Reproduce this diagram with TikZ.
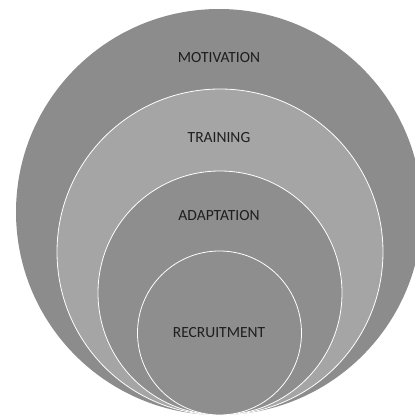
\documentclass[tikz,border=0pt]{standalone}
\usepackage{fontspec}
\setmainfont{Carlito}
\usepackage{tikz}
\usetikzlibrary{calc}
\definecolor{outergray}{HTML}{8C8C8C}
\definecolor{lightgray}{HTML}{A5A5A5}
\definecolor{innergray}{HTML}{8E8E8E}
\definecolor{textgray}{HTML}{1E1E1E}

\begin{document}
\begin{tikzpicture}
[x=1pt,y=1pt, ringbox/.style={circle,draw=white,thick,inner sep=0pt},
namebox/.style={font=\fontsize{15.5}{18}\selectfont,text=textgray,inner sep=0pt},]
\useasboundingbox (0,0) rectangle (415,416);
\clip (0,0) rectangle (415,416);
% rings, all touching at the bottom
\node[ringbox,draw=none,fill=outergray,minimum size=406pt] (motivation) at (219,204) {};
\node[ringbox,fill=lightgray,minimum size=326pt] (training) at (220,164) {};
\node[ringbox,fill=innergray,minimum size=244pt] (adaptation) at (220,123) {};
\node[ringbox,fill=innergray,minimum size=164pt] (recruitment) at (219.5,83) {};
% labels
\node[namebox] (motivationlabel) at (219,358) {MOTIVATION};
\node[namebox] (traininglabel) at (219,278) {TRAINING};
\node[namebox] (adaptationlabel) at (219,200) {ADAPTATION};
\node[namebox] (recruitmentlabel) at (219,83) {RECRUITMENT};
\end{tikzpicture}
\end{document}
